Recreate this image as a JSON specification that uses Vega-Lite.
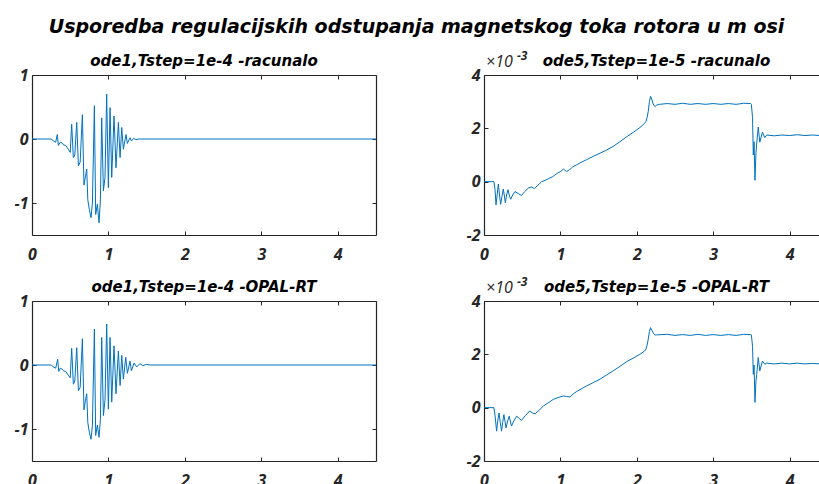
{
  "$schema": "https://vega.github.io/schema/vega-lite/v6.json",
  "background": "white",
  "padding": {"left": 14, "top": 18, "right": 0, "bottom": 0},
  "title": {
    "text": "Usporedba regulacijskih odstupanja magnetskog toka rotora u m osi",
    "font": "DejaVu Sans", "fontSize": 19, "fontWeight": "bold", "fontStyle": "italic",
    "color": "#000000", "anchor": "middle", "frame": "bounds", "offset": 13
  },
  "config": {
    "view": {"stroke": null},
    "title": {"font": "DejaVu Sans", "fontSize": 15, "fontWeight": "bold", "fontStyle": "italic", "color": "#000000", "offset": -2},
    "axis": {
      "grid": false, "title": null,
      "domainColor": "#262626", "domainWidth": 1.2,
      "tickColor": "#262626", "tickSize": -4, "tickWidth": 1,
      "labelColor": "#262626", "labelFont": "Open Sans", "labelFontSize": 16,
      "labelFontWeight": "bold", "labelFontStyle": "italic",
      "labelFlush": false, "labelBound": false, "labelOverlap": false,
      "labelExpr": "datum.value < 0 ? '-' + abs(datum.value) : '' + datum.value"
    },
    "axisX": {"labelPadding": 15},
    "axisY": {"labelPadding": 8}
  },
  "datasets": {
    "tl": [
      {"t":0,"v":0},{"t":0.25,"v":0},{"t":0.28,"v":-0.03},{"t":0.31,"v":-0.05},{"t":0.331,"v":0.07},{"t":0.345,"v":-0.1},{"t":0.37,"v":-0.05},{"t":0.39,"v":-0.06},{"t":0.41,"v":-0.09},{"t":0.44,"v":-0.1},{"t":0.475,"v":-0.16},{"t":0.5,"v":-0.21},{"t":0.519,"v":0.23},{"t":0.541,"v":-0.29},{"t":0.56,"v":-0.25},{"t":0.585,"v":0.26},{"t":0.607,"v":-0.42},{"t":0.63,"v":-0.36},{"t":0.659,"v":0.38},{"t":0.68,"v":-0.72},{"t":0.7,"v":-0.58},{"t":0.716,"v":-0.47},{"t":0.73,"v":-0.95},{"t":0.75,"v":-1.1},{"t":0.772,"v":-1.23},{"t":0.79,"v":-1.0},{"t":0.816,"v":0.52},{"t":0.833,"v":-1.18},{"t":0.855,"v":-1.02},{"t":0.877,"v":-1.31},{"t":0.895,"v":-0.95},{"t":0.912,"v":0.33},{"t":0.934,"v":-0.81},{"t":0.955,"v":-0.6},{"t":0.977,"v":0.7},{"t":0.999,"v":-0.76},{"t":1.021,"v":0.49},{"t":1.043,"v":-0.6},{"t":1.073,"v":0.36},{"t":1.099,"v":-0.45},{"t":1.13,"v":0.26},{"t":1.152,"v":-0.29},{"t":1.174,"v":0.18},{"t":1.195,"v":-0.16},{"t":1.23,"v":0.07},{"t":1.248,"v":-0.07},{"t":1.282,"v":0.02},{"t":1.3,"v":-0.03},{"t":1.33,"v":0.01},{"t":1.36,"v":-0.01},{"t":1.4,"v":0},{"t":4.5,"v":0}
    ],
    "bl": [
      {"t":0,"v":0},{"t":0.25,"v":0},{"t":0.28,"v":-0.03},{"t":0.31,"v":-0.05},{"t":0.336,"v":0.09},{"t":0.35,"v":-0.1},{"t":0.37,"v":-0.05},{"t":0.39,"v":-0.06},{"t":0.41,"v":-0.09},{"t":0.44,"v":-0.1},{"t":0.475,"v":-0.16},{"t":0.5,"v":-0.2},{"t":0.519,"v":0.26},{"t":0.541,"v":-0.3},{"t":0.56,"v":-0.25},{"t":0.585,"v":0.27},{"t":0.607,"v":-0.4},{"t":0.63,"v":-0.35},{"t":0.659,"v":0.41},{"t":0.68,"v":-0.7},{"t":0.7,"v":-0.55},{"t":0.716,"v":-0.45},{"t":0.73,"v":-0.9},{"t":0.75,"v":-1.05},{"t":0.772,"v":-1.16},{"t":0.79,"v":-0.95},{"t":0.816,"v":0.56},{"t":0.833,"v":-1.1},{"t":0.855,"v":-0.94},{"t":0.877,"v":-1.13},{"t":0.895,"v":-0.85},{"t":0.912,"v":0.43},{"t":0.934,"v":-0.79},{"t":0.955,"v":-0.55},{"t":0.977,"v":0.64},{"t":0.999,"v":-0.69},{"t":1.021,"v":0.43},{"t":1.043,"v":-0.58},{"t":1.073,"v":0.3},{"t":1.099,"v":-0.45},{"t":1.13,"v":0.22},{"t":1.152,"v":-0.32},{"t":1.174,"v":0.15},{"t":1.195,"v":-0.22},{"t":1.226,"v":0.12},{"t":1.248,"v":-0.13},{"t":1.282,"v":0.06},{"t":1.3,"v":-0.09},{"t":1.335,"v":0.03},{"t":1.37,"v":-0.03},{"t":1.41,"v":0.02},{"t":1.45,"v":-0.01},{"t":1.5,"v":0.01},{"t":1.55,"v":0},{"t":4.5,"v":0}
    ],
    "tr": [
      {"t":0,"v":0},{"t":0.13,"v":0},{"t":0.145,"v":-0.3},{"t":0.157,"v":-0.87},{"t":0.172,"v":-0.5},{"t":0.188,"v":-0.09},{"t":0.203,"v":-0.5},{"t":0.218,"v":-0.85},{"t":0.235,"v":-0.55},{"t":0.253,"v":-0.28},{"t":0.265,"v":-0.5},{"t":0.279,"v":-0.79},{"t":0.296,"v":-0.5},{"t":0.314,"v":-0.3},{"t":0.33,"v":-0.5},{"t":0.349,"v":-0.66},{"t":0.375,"v":-0.5},{"t":0.405,"v":-0.37},{"t":0.45,"v":-0.45},{"t":0.49,"v":-0.52},{"t":0.53,"v":-0.38},{"t":0.58,"v":-0.24},{"t":0.62,"v":-0.2},{"t":0.66,"v":-0.26},{"t":0.7,"v":-0.15},{"t":0.755,"v":0},{"t":0.8,"v":0.05},{"t":0.85,"v":0.12},{"t":0.9,"v":0.19},{"t":0.95,"v":0.3},{"t":1.0,"v":0.38},{"t":1.04,"v":0.47},{"t":1.08,"v":0.38},{"t":1.12,"v":0.45},{"t":1.16,"v":0.55},{"t":1.21,"v":0.63},{"t":1.27,"v":0.72},{"t":1.34,"v":0.82},{"t":1.43,"v":0.95},{"t":1.52,"v":1.07},{"t":1.6,"v":1.18},{"t":1.69,"v":1.32},{"t":1.78,"v":1.5},{"t":1.87,"v":1.69},{"t":1.96,"v":1.86},{"t":2.04,"v":2.03},{"t":2.1,"v":2.18},{"t":2.12,"v":2.26},{"t":2.135,"v":2.4},{"t":2.15,"v":2.64},{"t":2.165,"v":3.0},{"t":2.18,"v":3.2},{"t":2.195,"v":3.1},{"t":2.21,"v":2.95},{"t":2.225,"v":2.85},{"t":2.24,"v":2.82},{"t":2.26,"v":2.87},{"t":2.3,"v":2.9},{"t":2.4,"v":2.93},{"t":2.5,"v":2.9},{"t":2.6,"v":2.94},{"t":2.7,"v":2.9},{"t":2.8,"v":2.93},{"t":2.9,"v":2.9},{"t":3.0,"v":2.93},{"t":3.1,"v":2.9},{"t":3.2,"v":2.93},{"t":3.3,"v":2.9},{"t":3.4,"v":2.94},{"t":3.49,"v":2.93},{"t":3.5,"v":2.9},{"t":3.515,"v":2.4},{"t":3.525,"v":1.0},{"t":3.535,"v":1.5},{"t":3.547,"v":0.05},{"t":3.56,"v":1.1},{"t":3.575,"v":1.6},{"t":3.59,"v":2.05},{"t":3.61,"v":1.48},{"t":3.645,"v":1.86},{"t":3.675,"v":1.65},{"t":3.7,"v":1.75},{"t":3.8,"v":1.72},{"t":3.9,"v":1.75},{"t":4.0,"v":1.73},{"t":4.1,"v":1.76},{"t":4.2,"v":1.73},{"t":4.3,"v":1.75},{"t":4.4,"v":1.73},{"t":4.5,"v":1.74}
    ],
    "br": [
      {"t":0,"v":0},{"t":0.13,"v":0},{"t":0.145,"v":-0.3},{"t":0.165,"v":-0.88},{"t":0.18,"v":-0.5},{"t":0.196,"v":-0.2},{"t":0.213,"v":-0.55},{"t":0.23,"v":-0.88},{"t":0.245,"v":-0.55},{"t":0.26,"v":-0.26},{"t":0.275,"v":-0.5},{"t":0.288,"v":-0.76},{"t":0.31,"v":-0.5},{"t":0.33,"v":-0.32},{"t":0.345,"v":-0.5},{"t":0.36,"v":-0.69},{"t":0.39,"v":-0.5},{"t":0.427,"v":-0.32},{"t":0.46,"v":-0.4},{"t":0.49,"v":-0.48},{"t":0.54,"v":-0.3},{"t":0.6,"v":-0.12},{"t":0.635,"v":-0.2},{"t":0.67,"v":-0.23},{"t":0.72,"v":-0.1},{"t":0.776,"v":0.06},{"t":0.84,"v":0.18},{"t":0.907,"v":0.31},{"t":0.97,"v":0.38},{"t":1.04,"v":0.44},{"t":1.08,"v":0.42},{"t":1.125,"v":0.4},{"t":1.17,"v":0.52},{"t":1.21,"v":0.6},{"t":1.27,"v":0.7},{"t":1.34,"v":0.81},{"t":1.43,"v":0.94},{"t":1.52,"v":1.07},{"t":1.6,"v":1.22},{"t":1.69,"v":1.38},{"t":1.78,"v":1.55},{"t":1.87,"v":1.73},{"t":1.96,"v":1.87},{"t":2.04,"v":2.0},{"t":2.1,"v":2.12},{"t":2.12,"v":2.2},{"t":2.135,"v":2.35},{"t":2.15,"v":2.57},{"t":2.165,"v":2.85},{"t":2.18,"v":3.0},{"t":2.2,"v":2.88},{"t":2.216,"v":2.8},{"t":2.24,"v":2.72},{"t":2.26,"v":2.73},{"t":2.4,"v":2.75},{"t":2.5,"v":2.71},{"t":2.6,"v":2.74},{"t":2.7,"v":2.71},{"t":2.8,"v":2.75},{"t":2.9,"v":2.71},{"t":3.0,"v":2.74},{"t":3.1,"v":2.71},{"t":3.2,"v":2.74},{"t":3.3,"v":2.71},{"t":3.4,"v":2.75},{"t":3.49,"v":2.74},{"t":3.5,"v":2.73},{"t":3.515,"v":2.3},{"t":3.525,"v":1.25},{"t":3.535,"v":1.6},{"t":3.547,"v":0.2},{"t":3.56,"v":1.0},{"t":3.57,"v":1.25},{"t":3.59,"v":1.88},{"t":3.61,"v":1.38},{"t":3.645,"v":1.75},{"t":3.675,"v":1.63},{"t":3.7,"v":1.67},{"t":3.8,"v":1.64},{"t":3.9,"v":1.67},{"t":4.0,"v":1.64},{"t":4.1,"v":1.67},{"t":4.2,"v":1.64},{"t":4.3,"v":1.66},{"t":4.4,"v":1.64},{"t":4.5,"v":1.65}
    ]
  },
  "columns": 2,
  "spacing": {"row": 66, "column": 108},
  "bounds": "flush",
  "concat": [
    {
      "width": 344, "height": 160,
      "title": {"text": "ode1,Tstep=1e-4 -racunalo"},
      "data": {"name": "tl"},
      "layer": [
        {"mark": {"type": "line", "color": "#0072BD", "strokeWidth": 1, "clip": true},
         "encoding": {
           "x": {"field": "t", "type": "quantitative", "scale": {"domain": [0, 4.5], "nice": false, "zero": false}, "axis": {"orient": "bottom", "values": [0, 1, 2, 3, 4]}},
           "y": {"field": "v", "type": "quantitative", "scale": {"domain": [-1.5, 1], "nice": false, "zero": false}, "axis": {"orient": "left", "values": [-1, 0, 1]}}}},
        {"mark": {"type": "line", "opacity": 0},
         "encoding": {
           "x": {"field": "t", "type": "quantitative", "axis": {"orient": "top", "values": [0, 1, 2, 3, 4], "labels": false}},
           "y": {"field": "v", "type": "quantitative", "axis": {"orient": "right", "values": [-1, 0, 1], "labels": false}}}}
      ],
      "resolve": {"axis": {"x": "independent", "y": "independent"}}
    },
    {
      "width": 335, "height": 160,
      "title": {"text": "ode5,Tstep=1e-5 -racunalo", "dx": 5, "dy": 17},
      "data": {"name": "tr"},
      "layer": [
        {"mark": {"type": "line", "color": "#0072BD", "strokeWidth": 1, "clip": true},
         "encoding": {
           "x": {"field": "t", "type": "quantitative", "scale": {"domain": [0, 4.385], "nice": false, "zero": false}, "axis": {"orient": "bottom", "values": [0, 1, 2, 3, 4]}},
           "y": {"field": "v", "type": "quantitative", "scale": {"domain": [-2, 4], "nice": false, "zero": false}, "axis": {"orient": "left", "values": [-2, 0, 2, 4]}}}},
        {"mark": {"type": "line", "opacity": 0, "clip": true},
         "encoding": {
           "x": {"field": "t", "type": "quantitative", "axis": {"orient": "top", "values": [0, 1, 2, 3, 4], "labels": false}},
           "y": {"field": "v", "type": "quantitative", "axis": null}}},
        {"data": {"values": [{}]},
         "mark": {"type": "text", "align": "left", "baseline": "alphabetic", "dx": 2, "dy": -8, "font": "Open Sans", "fontSize": 16, "fontStyle": "italic", "color": "#262626"},
         "encoding": {
           "x": {"datum": 0, "type": "quantitative", "axis": null},
           "y": {"datum": 4, "type": "quantitative", "axis": null},
           "text": {"value": "×10"}}},
        {"data": {"values": [{}]},
         "mark": {"type": "text", "align": "left", "baseline": "alphabetic", "dx": 33, "dy": -15, "font": "Open Sans", "fontSize": 12, "fontWeight": "bold", "fontStyle": "italic", "color": "#262626"},
         "encoding": {
           "x": {"datum": 0, "type": "quantitative", "axis": null},
           "y": {"datum": 4, "type": "quantitative", "axis": null},
           "text": {"value": "-3"}}}
      ],
      "resolve": {"axis": {"x": "independent", "y": "independent"}}
    },
    {
      "width": 344, "height": 160,
      "title": {"text": "ode1,Tstep=1e-4 -OPAL-RT"},
      "data": {"name": "bl"},
      "layer": [
        {"mark": {"type": "line", "color": "#0072BD", "strokeWidth": 1, "clip": true},
         "encoding": {
           "x": {"field": "t", "type": "quantitative", "scale": {"domain": [0, 4.5], "nice": false, "zero": false}, "axis": {"orient": "bottom", "values": [0, 1, 2, 3, 4]}},
           "y": {"field": "v", "type": "quantitative", "scale": {"domain": [-1.5, 1], "nice": false, "zero": false}, "axis": {"orient": "left", "values": [-1, 0, 1]}}}},
        {"mark": {"type": "line", "opacity": 0},
         "encoding": {
           "x": {"field": "t", "type": "quantitative", "axis": {"orient": "top", "values": [0, 1, 2, 3, 4], "labels": false}},
           "y": {"field": "v", "type": "quantitative", "axis": {"orient": "right", "values": [-1, 0, 1], "labels": false}}}}
      ],
      "resolve": {"axis": {"x": "independent", "y": "independent"}}
    },
    {
      "width": 335, "height": 160,
      "title": {"text": "ode5,Tstep=1e-5 -OPAL-RT", "dx": 5, "dy": 17},
      "data": {"name": "br"},
      "layer": [
        {"mark": {"type": "line", "color": "#0072BD", "strokeWidth": 1, "clip": true},
         "encoding": {
           "x": {"field": "t", "type": "quantitative", "scale": {"domain": [0, 4.385], "nice": false, "zero": false}, "axis": {"orient": "bottom", "values": [0, 1, 2, 3, 4]}},
           "y": {"field": "v", "type": "quantitative", "scale": {"domain": [-2, 4], "nice": false, "zero": false}, "axis": {"orient": "left", "values": [-2, 0, 2, 4]}}}},
        {"mark": {"type": "line", "opacity": 0, "clip": true},
         "encoding": {
           "x": {"field": "t", "type": "quantitative", "axis": {"orient": "top", "values": [0, 1, 2, 3, 4], "labels": false}},
           "y": {"field": "v", "type": "quantitative", "axis": null}}},
        {"data": {"values": [{}]},
         "mark": {"type": "text", "align": "left", "baseline": "alphabetic", "dx": 2, "dy": -8, "font": "Open Sans", "fontSize": 16, "fontStyle": "italic", "color": "#262626"},
         "encoding": {
           "x": {"datum": 0, "type": "quantitative", "axis": null},
           "y": {"datum": 4, "type": "quantitative", "axis": null},
           "text": {"value": "×10"}}},
        {"data": {"values": [{}]},
         "mark": {"type": "text", "align": "left", "baseline": "alphabetic", "dx": 33, "dy": -15, "font": "Open Sans", "fontSize": 12, "fontWeight": "bold", "fontStyle": "italic", "color": "#262626"},
         "encoding": {
           "x": {"datum": 0, "type": "quantitative", "axis": null},
           "y": {"datum": 4, "type": "quantitative", "axis": null},
           "text": {"value": "-3"}}}
      ],
      "resolve": {"axis": {"x": "independent", "y": "independent"}}
    }
  ]
}
